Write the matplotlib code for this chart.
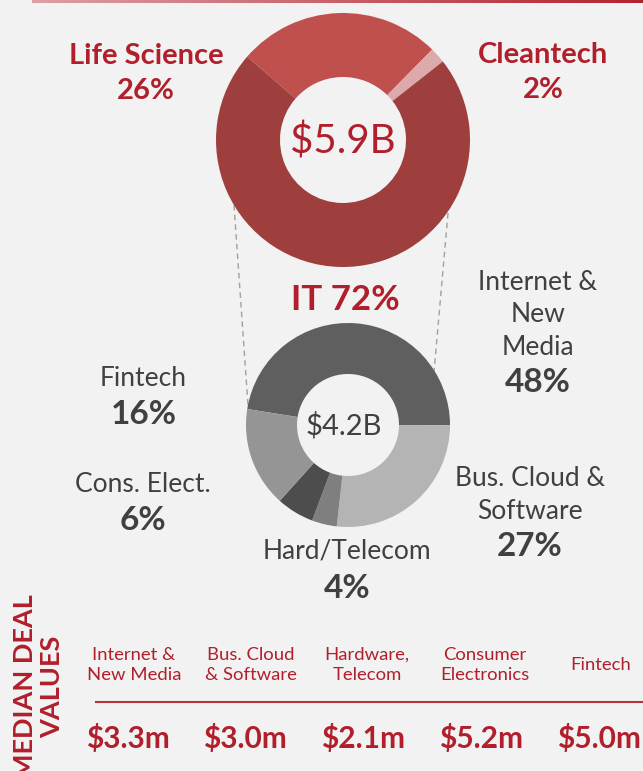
import matplotlib.pyplot as plt
import numpy as np
from matplotlib.colors import LinearSegmentedColormap

W, H = 643, 771

# top donut: total funding by sector
top_labels = ["Life Science", "Cleantech", "IT"]
top_share = [26, 2, 72]
top_total = "$5.9B"

# bottom donut: IT split
it_labels = ["Internet & New Media", "Bus. Cloud & Software", "Hard/Telecom", "Cons. Elect.", "Fintech"]
it_share = [48, 27, 4, 6, 16]
it_total = "$4.2B"

# median deal values
med_labels = ["Internet &\nNew Media", "Bus. Cloud\n& Software", "Hardware,\nTelecom", "Consumer\nElectronics", "Fintech"]
med_values = ["$3.3m", "$3.0m", "$2.1m", "$5.2m", "$5.0m"]

RED = "#b01f2b"
GRAY = "#404040"
BG = "#f2f2f2"

plt.rcParams['font.family'] = ['Lato', 'DejaVu Sans']

fig = plt.figure(figsize=(W / 100, H / 100), dpi=100, facecolor=BG)
ax = fig.add_axes([0, 0, 1, 1])
ax.set_facecolor(BG)


def Y(y):
    return H - y


# gradient bar at the very top
grad = np.linspace(0, 1, 256).reshape(1, -1)
cm = LinearSegmentedColormap.from_list("bar", ["#dca0a4", "#b3232e"])
ax.imshow(grad, cmap=cm, extent=[32, W, Y(3.5), Y(0)], aspect='auto', zorder=1)

# top donut
ax.pie(top_share, colors=["#c0504e", "#dcaaaa", "#9e3f3e"], startangle=139,
       counterclock=False, radius=127, center=(343, Y(140)),
       wedgeprops=dict(width=64, edgecolor='none'))
ax.text(343, Y(141), top_total, color=RED, fontsize=29, ha='center', va='center')

# bottom donut
ax.pie(it_share, colors=["#5f5f5f", "#b4b4b4", "#7f7f7f", "#4d4d4d", "#959595"],
       startangle=171, counterclock=False, radius=102, center=(348, Y(425)),
       wedgeprops=dict(width=51, edgecolor='none'))
ax.text(344, Y(426), it_total, color=GRAY, fontsize=21, ha='center', va='center')

# dashed connectors
ax.plot([234, 248], [Y(205), Y(405)], color="#a0a0a0", lw=1, ls=(0, (4, 3)), zorder=0)
ax.plot([448, 434], [Y(213), Y(372)], color="#a0a0a0", lw=1, ls=(0, (4, 3)), zorder=0)

# top labels
ax.text(146, Y(56), top_labels[0], color=RED, fontsize=21, fontweight='bold', ha='center', va='center')
ax.text(146, Y(91), f"{top_share[0]}%", color=RED, fontsize=21, fontweight='bold', ha='center', va='center')
ax.text(543, Y(55), top_labels[1], color=RED, fontsize=21, fontweight='bold', ha='center', va='center')
ax.text(543, Y(90), f"{top_share[1]}%", color=RED, fontsize=21, fontweight='bold', ha='center', va='center')
ax.text(345, Y(300), f"{top_labels[2]} {top_share[2]}%", color=RED, fontsize=25, fontweight='bold',
        ha='center', va='center')

# IT slice labels
ax.text(538, Y(315), "Internet &\nNew\nMedia", color=GRAY, fontsize=19, ha='center', va='center', linespacing=1.38)
ax.text(538, Y(383), f"{it_share[0]}%", color=GRAY, fontsize=24, fontweight='bold', ha='center', va='center')
ax.text(530, Y(495), "Bus. Cloud &\nSoftware", color=GRAY, fontsize=19, ha='center', va='center', linespacing=1.38)
ax.text(530, Y(547), f"{it_share[1]}%", color=GRAY, fontsize=24, fontweight='bold', ha='center', va='center')
ax.text(347, Y(551), it_labels[2], color=GRAY, fontsize=19, ha='center', va='center')
ax.text(347, Y(589), f"{it_share[2]}%", color=GRAY, fontsize=24, fontweight='bold', ha='center', va='center')
ax.text(143, Y(485), it_labels[3], color=GRAY, fontsize=19, ha='center', va='center')
ax.text(143, Y(521), f"{it_share[3]}%", color=GRAY, fontsize=24, fontweight='bold', ha='center', va='center')
ax.text(143, Y(378), it_labels[4], color=GRAY, fontsize=19, ha='center', va='center')
ax.text(144, Y(415), f"{it_share[4]}%", color=GRAY, fontsize=24, fontweight='bold', ha='center', va='center')

# median deal values section (cut off at the bottom edge as in the source)
ax.text(39, Y(687), "MEDIAN DEAL\nVALUES", color=RED, fontsize=19.5, fontweight='bold', rotation=90,
        ha='center', va='center', multialignment='center', linespacing=1.15)
xs = [134, 251, 367, 485, 601]
vx = [128, 245, 363, 481, 599]
for x, x2, lab, val in zip(xs, vx, med_labels, med_values):
    ax.text(x, Y(665), lab, color=RED, fontsize=13.3, ha='center', va='center', linespacing=1.3)
    ax.text(x2, Y(739), val, color=RED, fontsize=21.5, fontweight='bold', ha='center', va='center')
ax.plot([96, W], [Y(702), Y(702)], color="#b8323a", lw=1.5)

ax.set_xlim(0, W)
ax.set_ylim(0, H)
ax.set_aspect('auto')
ax.axis('off')

fig.savefig("out.png", dpi=100, facecolor=BG)
